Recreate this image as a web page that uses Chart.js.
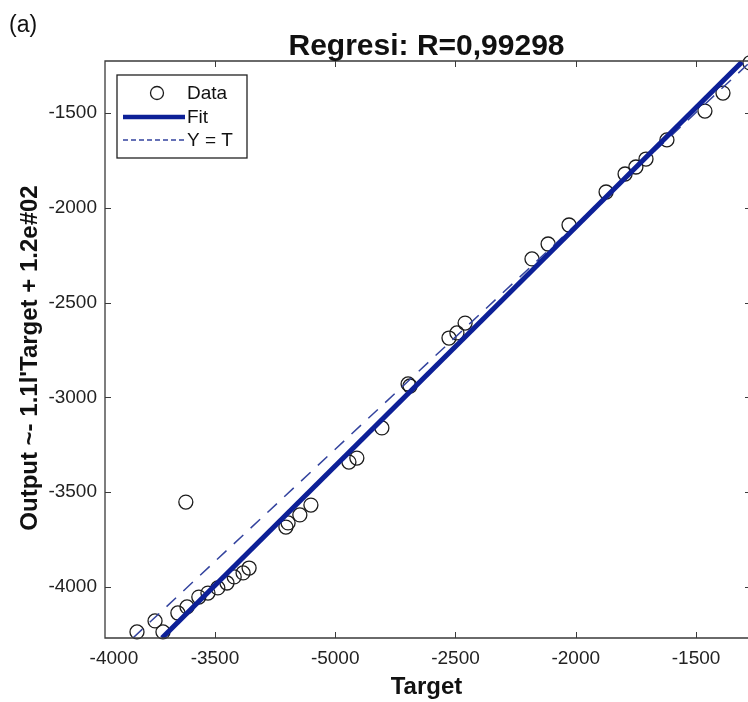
<!DOCTYPE html>
<html>
<head>
<meta charset="utf-8">
<script src="https://cdn.jsdelivr.net/npm/chart.js@4.4.1/dist/chart.umd.min.js"></script>
<style>
  html, body { margin: 0; padding: 0; background: #fff; }
  #wrap { width: 748px; height: 702px; }
</style>
</head>
<body>
<div id="wrap"><canvas id="c" width="748" height="702"></canvas></div>
<script>
// Regression samples: target value and network output
const targetVals = [-3824, -3749, -3716, -3654, -3616, -3621, -3567, -3529, -3488, -3450,
  -3420, -3383, -3358, -3205, -3196, -3147, -3101, -2943, -2910, -2806,
  -2697, -2689, -2527, -2494, -2460, -2182, -2115, -2028, -1874, -1795,
  -1750, -1708, -1621, -1463, -1388, -1276];
const outputVals = [-4237, -4179, -4237, -4137, -4105, -3552, -4053, -4032, -4005, -3979,
  -3947, -3926, -3900, -3684, -3662, -3620, -3568, -3341, -3320, -3161,
  -2929, -2940, -2687, -2660, -2608, -2270, -2191, -2091, -1917, -1822,
  -1785, -1743, -1642, -1490, -1395, -1236];

// Fitted regression line and the Y = T reference line (end points)
const fitT = [-3720, -1309];
const fitY = [-4269, -1231];
const identT = [-3841, -1284];
const identY = [-4269, -1242];

// Axis ticks
const xTickValues = [-3920, -3500, -3000, -2500, -2000, -1500];
const xTickLabels = ['-4000', '-3500', '-5000', '-2500', '-2000', '-1500'];
const xMarkValues = [-3500, -3000, -2500, -2000, -1500];
const yTickValues = [-4000, -3500, -3000, -2500, -2000, -1500];
const yTickLabels = ['-4000', '-3500', '-3000', '-2500', '-2000', '-1500'];

const titleText = 'Regresi: R=0,99298';
const panelLabel = '(a)';
const xTitle = 'Target';
const yTitle = "Output ~- 1.1l'Target + 1.2e#02";

const FONT = "'Liberation Sans', Arial, Helvetica, sans-serif";

// Axes outline (right edge lies just past the canvas) with inward ticks,
// plus titles and panel letter
const framePlugin = {
  id: 'frame',
  afterDraw(chart) {
    const { ctx, chartArea: a, scales } = chart;
    const rightEdge = a.right + 3;
    ctx.save();
    ctx.strokeStyle = '#3a3a3a';
    ctx.lineWidth = 1.3;
    ctx.beginPath();
    ctx.moveTo(rightEdge, a.top); ctx.lineTo(a.left, a.top);
    ctx.lineTo(a.left, a.bottom); ctx.lineTo(rightEdge, a.bottom);
    ctx.stroke();
    ctx.lineWidth = 1;
    const tl = 6;
    ctx.beginPath();
    xMarkValues.forEach(v => {
      const px = Math.round(scales.x.getPixelForValue(v)) + 0.5;
      ctx.moveTo(px, a.bottom); ctx.lineTo(px, a.bottom - tl);
      ctx.moveTo(px, a.top); ctx.lineTo(px, a.top + tl);
    });
    yTickValues.forEach(v => {
      const py = Math.round(scales.y.getPixelForValue(v)) + 0.5;
      ctx.moveTo(a.left, py); ctx.lineTo(a.left + tl, py);
      ctx.moveTo(rightEdge, py); ctx.lineTo(rightEdge - tl, py);
    });
    ctx.stroke();

    ctx.fillStyle = '#111';
    ctx.textBaseline = 'alphabetic';
    ctx.textAlign = 'center';
    ctx.font = `bold 30px ${FONT}`;
    ctx.fillText(titleText, (a.left + a.right) / 2, 55);
    ctx.textAlign = 'left';
    ctx.font = `23px ${FONT}`;
    ctx.fillText(panelLabel, 9, 32);

    // vertical axis title
    ctx.save();
    ctx.translate(30, 358);
    ctx.rotate(-Math.PI / 2);
    ctx.textAlign = 'center';
    ctx.textBaseline = 'middle';
    ctx.font = `bold 24px ${FONT}`;
    ctx.fillText(yTitle, 0, 0);
    ctx.restore();
    ctx.restore();
  }
};

// Legend box in the upper-left corner of the axes
const legendPlugin = {
  id: 'boxLegend',
  afterDraw(chart) {
    const { ctx } = chart;
    const ds = chart.data.datasets;
    const bx = 117, by = 75, bw = 130, bh = 83;
    ctx.save();
    ctx.fillStyle = '#fff';
    ctx.fillRect(bx, by, bw, bh);
    ctx.strokeStyle = '#222';
    ctx.lineWidth = 1.3;
    ctx.strokeRect(bx, by, bw, bh);

    const rows = [93, 117, 140];
    const x0 = 123, x1 = 185, tx = 187;
    // Data marker
    ctx.beginPath();
    ctx.strokeStyle = ds[0].borderColor;
    ctx.lineWidth = ds[0].borderWidth;
    ctx.arc(157, rows[0], 6.5, 0, Math.PI * 2);
    ctx.stroke();
    // Fit line swatch
    ctx.beginPath();
    ctx.strokeStyle = ds[1].borderColor;
    ctx.lineWidth = 4.5;
    ctx.moveTo(x0, rows[1]); ctx.lineTo(x1, rows[1]);
    ctx.stroke();
    // Y = T swatch
    ctx.beginPath();
    ctx.strokeStyle = ds[2].borderColor;
    ctx.lineWidth = 1.3;
    ctx.setLineDash([5, 3]);
    ctx.moveTo(x0, rows[2]); ctx.lineTo(x1, rows[2]);
    ctx.stroke();
    ctx.setLineDash([]);

    ctx.fillStyle = '#111';
    ctx.font = `19px ${FONT}`;
    ctx.textAlign = 'left';
    ctx.textBaseline = 'middle';
    ds.forEach((d, i) => ctx.fillText(d.label, tx, rows[i] + 1));
    ctx.restore();
  }
};

const ctx = document.getElementById('c').getContext('2d');
new Chart(ctx, {
  type: 'scatter',
  data: {
    datasets: [
      {
        label: 'Data',
        data: targetVals.map((t, i) => ({ x: t, y: outputVals[i] })),
        showLine: false,
        pointStyle: 'circle',
        pointRadius: 7,
        borderColor: '#1c1c1c',
        borderWidth: 1.3,
        backgroundColor: 'rgba(0,0,0,0)',
        order: 2,
        clip: false
      },
      {
        label: 'Fit',
        data: fitT.map((t, i) => ({ x: t, y: fitY[i] })),
        showLine: true,
        borderColor: '#0d2097',
        borderWidth: 5,
        pointRadius: 0,
        order: 0
      },
      {
        label: 'Y = T',
        data: identT.map((t, i) => ({ x: t, y: identY[i] })),
        showLine: true,
        borderColor: '#33439e',
        borderWidth: 1.5,
        borderDash: [13, 10],
        pointRadius: 0,
        order: 1
      }
    ]
  },
  options: {
    responsive: false,
    animation: false,
    devicePixelRatio: 1,
    layout: { autoPadding: false, padding: { top: 61, right: 0, bottom: 0, left: 0 } },
    plugins: {
      legend: { display: false },
      tooltip: { enabled: false },
      title: { display: false }
    },
    scales: {
      x: {
        type: 'linear',
        min: -3957,
        max: -1284,
        afterFit(s) { s.height = 64; s.paddingLeft = 0; s.paddingRight = 0; },
        afterBuildTicks(s) { s.ticks = xTickValues.map(v => ({ value: v })); },
        ticks: {
          callback: (v, i) => xTickLabels[i],
          font: { family: FONT, size: 19 },
          color: '#222',
          padding: 9,
          maxRotation: 0,
          autoSkip: false
        },
        grid: { display: false, drawTicks: false },
        border: { display: false },
        title: {
          display: true,
          text: xTitle,
          font: { family: FONT, size: 24, weight: 'bold' },
          color: '#111',
          padding: { top: 0, bottom: 0 }
        }
      },
      y: {
        type: 'linear',
        min: -4269,
        max: -1226,
        afterFit(s) { s.width = 105; s.paddingTop = 0; s.paddingBottom = 0; },
        afterBuildTicks(s) { s.ticks = yTickValues.map(v => ({ value: v })); },
        ticks: {
          callback: (v, i) => yTickLabels[i],
          font: { family: FONT, size: 19 },
          color: '#222',
          padding: 8,
          autoSkip: false
        },
        grid: { display: false, drawTicks: false },
        border: { display: false },
        title: { display: false }
      }
    }
  },
  plugins: [framePlugin, legendPlugin]
});
</script>
</body>
</html>
